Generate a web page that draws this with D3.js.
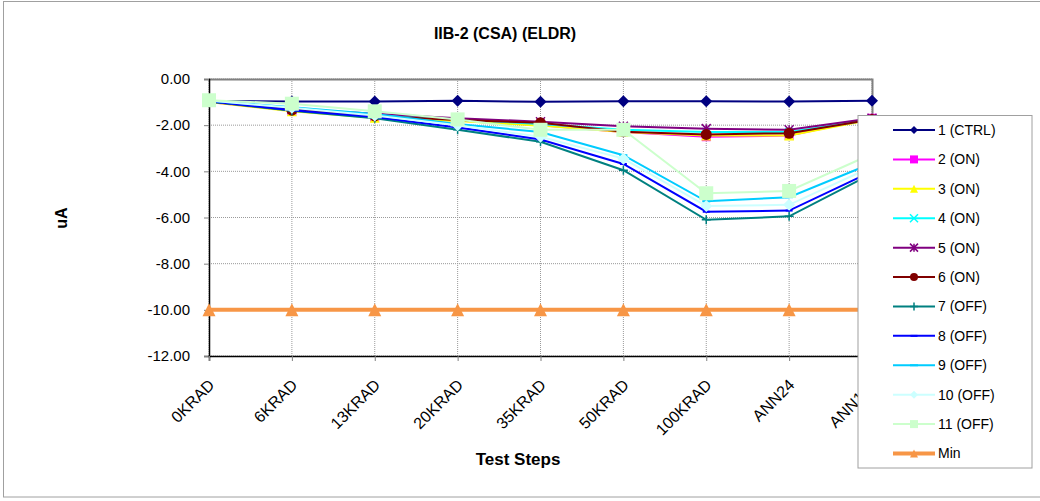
<!DOCTYPE html>
<html>
<head>
<meta charset="utf-8">
<style>
  body { margin: 0; background: #fff; }
  text { font-family: Arial, "Liberation Sans", sans-serif; fill: #000; }
</style>
</head>
<body>
<div id="chart"></div>
<script src="https://d3js.org/d3.v7.min.js"></script>
<script>

// categories (test steps)
var steps = ["0KRAD", "6KRAD", "13KRAD", "20KRAD", "35KRAD", "50KRAD", "100KRAD", "ANN24", "ANN168"];

// series values (uA)
var s1 = [-0.95, -0.97, -0.97, -0.94, -0.99, -0.96, -0.96, -0.98, -0.94];
var s2 = [-1.00, -1.38, -1.65, -1.80, -2.00, -2.30, -2.50, -2.45, -1.70];
var s3 = [-1.00, -1.40, -1.68, -1.82, -2.02, -2.30, -2.45, -2.45, -1.75];
var s4 = [-0.98, -1.30, -1.55, -1.75, -1.95, -2.20, -2.30, -2.30, -1.75];
var s5 = [-0.95, -1.30, -1.50, -1.70, -1.85, -2.05, -2.15, -2.20, -1.70];
var s6 = [-0.98, -1.35, -1.60, -1.78, -1.90, -2.28, -2.40, -2.35, -1.75];
var s7 = [-0.97, -1.38, -1.70, -2.20, -2.72, -3.95, -6.10, -5.95, -4.10];
var s8 = [-0.96, -1.35, -1.65, -2.10, -2.62, -3.68, -5.75, -5.70, -4.00];
var s9 = [-0.94, -1.22, -1.52, -1.95, -2.30, -3.30, -5.30, -5.12, -3.65];
var s10 = [-0.93, -1.25, -1.58, -2.00, -2.50, -3.45, -5.50, -5.45, -3.80];
var s11 = [-0.92, -1.07, -1.40, -1.75, -2.20, -2.20, -4.95, -4.85, -3.25];
var minLimit = [-10, -10, -10, -10, -10, -10, -10, -10, -10];

var seriesNames = ["1 (CTRL)", "2 (ON)", "3 (ON)", "4 (ON)", "5 (ON)", "6 (ON)",
                   "7 (OFF)", "8 (OFF)", "9 (OFF)", "10 (OFF)", "11 (OFF)", "Min"];
var yTicks = [0, -2, -4, -6, -8, -10, -12];

// styles for each series
var styles = [
  {color: "#000080", marker: "diamond", size: 12, w: 2},
  {color: "#ff00ff", marker: "square", size: 9, w: 2},
  {color: "#ffff00", marker: "triangle", size: 10, w: 2},
  {color: "#00ffff", marker: "x", size: 8, w: 2},
  {color: "#800080", marker: "star", size: 9, w: 2},
  {color: "#800000", marker: "circle", size: 11, w: 2},
  {color: "#008080", marker: "plus", size: 9, w: 2},
  {color: "#0000ff", marker: "dash", size: 7, w: 2},
  {color: "#00ccff", marker: "dash", size: 8, w: 2},
  {color: "#ccffff", marker: "diamond", size: 12, w: 2},
  {color: "#ccffcc", marker: "square", size: 14, w: 2},
  {color: "#f79646", marker: "triangle", size: 13, w: 4}
];
var allValues = [s1, s2, s3, s4, s5, s6, s7, s8, s9, s10, s11, minLimit];

var W = 1040, H = 501;
var svg = d3.select("#chart").append("svg")
    .attr("width", W).attr("height", H);

// outer chart border
svg.append("rect")
    .attr("x", 3.5).attr("y", 1.5)
    .attr("width", W).attr("height", 495.5)
    .attr("fill", "#fff").attr("stroke", "#a0a0a0");

var plotL = 209, plotR = 872, plotT = 79, plotB = 356;

var x = d3.scalePoint().domain(steps).range([plotL, plotR]).padding(0);
var y = d3.scaleLinear().domain([-12, 0]).range([plotB, plotT]);

// gridlines
svg.append("g").selectAll("line")
  .data(yTicks)
  .enter().append("line")
    .attr("x1", plotL).attr("x2", plotR)
    .attr("y1", function(d){ return y(d) }).attr("y2", function(d){ return y(d) })
    .attr("stroke", "#9a9a9a").attr("stroke-width", 1).attr("stroke-dasharray", "1,1");
svg.append("g").selectAll("line")
  .data(steps)
  .enter().append("line")
    .attr("x1", function(d){ return x(d) }).attr("x2", function(d){ return x(d) })
    .attr("y1", plotT).attr("y2", plotB)
    .attr("stroke", "#9a9a9a").attr("stroke-width", 1).attr("stroke-dasharray", "1,1");

// plot area border top/right (grey)
svg.append("path")
    .attr("d", "M" + plotL + "," + (plotT + 0.5) + "H" + (plotR + 0.5) + "V" + plotB)
    .attr("fill", "none").attr("stroke", "#808080").attr("stroke-width", 2);

// axes
var yAxis = svg.append("g")
    .attr("transform", "translate(" + plotL + ",0)")
    .call(d3.axisLeft(y).tickValues(yTicks).tickSize(5)
      .tickFormat(function(d){ return d.toFixed(2) }));
yAxis.select(".domain").attr("stroke", "#000").attr("stroke-width", 1.5);
yAxis.selectAll(".tick line").attr("stroke", "#808080");
yAxis.selectAll(".tick text")
    .attr("x", -19)
    .style("font-size", "15px").style("font-family", "Arial, 'Liberation Sans', sans-serif");

var xAxis = svg.append("g")
    .attr("transform", "translate(0," + plotB + ")")
    .call(d3.axisBottom(x).tickSize(5));
xAxis.select(".domain").attr("stroke", "#000").attr("stroke-width", 1.5);
xAxis.selectAll(".tick line").attr("stroke", "#808080");
xAxis.selectAll(".tick text")
    .attr("text-anchor", "end")
    .attr("dy", "0.35em")
    .attr("transform", "translate(2,26) rotate(-45)")
    .attr("y", 0).attr("x", 0)
    .style("font-size", "16px").style("font-family", "Arial, 'Liberation Sans', sans-serif");

// marker path
function markerPath(type, s) {
  var h = s / 2;
  if (type === "diamond") return "M0," + (-h) + "L" + h + ",0L0," + h + "L" + (-h) + ",0Z";
  if (type === "square") return "M" + (-h) + "," + (-h) + "h" + s + "v" + s + "h" + (-s) + "Z";
  if (type === "triangle") return "M0," + (-h) + "L" + h + "," + h + "L" + (-h) + "," + h + "Z";
  if (type === "circle") return d3.symbol().type(d3.symbolCircle).size(Math.PI * h * h)();
  if (type === "x") return "M" + (-h) + "," + (-h) + "L" + h + "," + h + "M" + h + "," + (-h) + "L" + (-h) + "," + h;
  if (type === "plus") return "M" + (-h) + ",0H" + h + "M0," + (-h) + "V" + h;
  if (type === "star") return "M" + (-h) + "," + (-h) + "L" + h + "," + h + "M" + h + "," + (-h) + "L" + (-h) + "," + h + "M0," + (-h) + "V" + h;
  if (type === "dash") return "M" + (-h) + ",-1h" + s + "v2h" + (-s) + "Z";
  return "";
}
var strokeMarkers = {x: 1, plus: 1, star: 1};

var line = d3.line()
    .x(function(d, i){ return x(steps[i]) })
    .y(function(d){ return y(d) });

// draw series
allValues.forEach(function(vals, k) {
  var st = styles[k];
  var g = svg.append("g");
  g.append("path")
      .datum(vals)
      .attr("d", line)
      .attr("fill", "none")
      .attr("stroke", st.color)
      .attr("stroke-width", st.w);
  g.selectAll("path.m")
    .data(vals)
    .enter().append("path")
      .attr("class", "m")
      .attr("transform", function(d, i){ return "translate(" + x(steps[i]) + "," + y(d) + ")" })
      .attr("d", markerPath(st.marker, st.size))
      .attr("fill", strokeMarkers[st.marker] ? "none" : st.color)
      .attr("stroke", st.color)
      .attr("stroke-width", strokeMarkers[st.marker] ? 1.5 : 0);
});

// legend
var lg = svg.append("g");
lg.append("rect")
    .attr("x", 858).attr("y", 115.5)
    .attr("width", 174).attr("height", 352.5)
    .attr("fill", "#fff").attr("stroke", "#a0a0a0");
var ly = d3.scalePoint().domain(seriesNames).range([130, 453.5]);
seriesNames.forEach(function(name, k) {
  var st = styles[k];
  var yy = ly(name);
  lg.append("line")
      .attr("x1", 893).attr("x2", 935).attr("y1", yy).attr("y2", yy)
      .attr("stroke", st.color).attr("stroke-width", st.w);
  lg.append("path")
      .attr("transform", "translate(914," + yy + ")")
      .attr("d", markerPath(st.marker, Math.min(st.size, 8)))
      .attr("fill", strokeMarkers[st.marker] ? "none" : st.color)
      .attr("stroke", st.color)
      .attr("stroke-width", strokeMarkers[st.marker] ? 1.5 : 0);
  lg.append("text")
      .attr("x", 938).attr("y", yy).attr("dy", "0.35em")
      .style("font-size", "14px")
      .text(name);
});

// titles
svg.append("text")
    .attr("x", 505).attr("y", 39)
    .attr("text-anchor", "middle")
    .style("font-size", "16px").style("font-weight", "bold")
    .text("IIB-2 (CSA) (ELDR)");
svg.append("text")
    .attr("x", 518).attr("y", 465)
    .attr("text-anchor", "middle")
    .style("font-size", "17px").style("font-weight", "bold")
    .text("Test Steps");
svg.append("text")
    .attr("transform", "translate(67,218) rotate(-90)")
    .attr("text-anchor", "middle")
    .style("font-size", "16px").style("font-weight", "bold")
    .text("uA");

</script>
</body>
</html>
